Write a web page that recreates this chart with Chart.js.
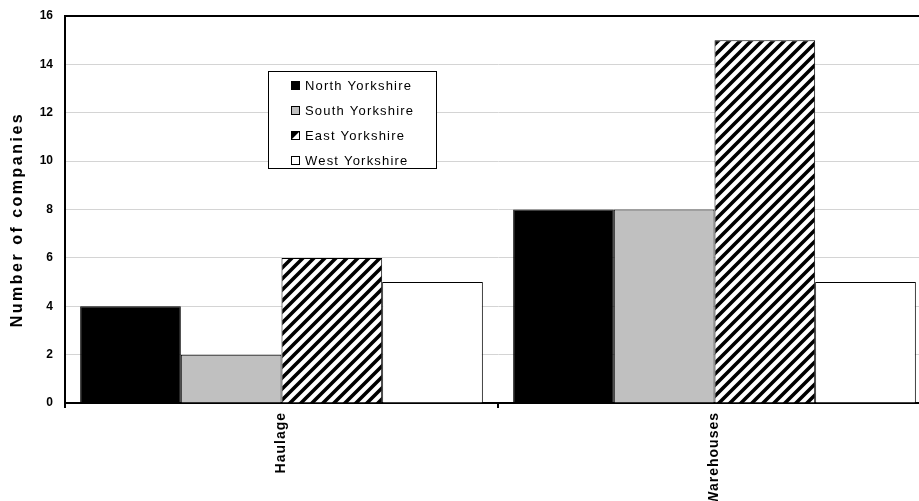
<!DOCTYPE html>
<html>
<head>
<meta charset="utf-8">
<script src="https://cdn.jsdelivr.net/npm/chart.js@4"></script>
<style>
  html, body { margin: 0; padding: 0; background: #fff; overflow: hidden; }
  #wrap { width: 931px; height: 501px; position: relative; }
</style>
</head>
<body>
<div id="wrap"><canvas id="c" width="931" height="501"></canvas></div>
<script>
const categories = ['Haulage', 'Warehouses'];
const seriesNames = ['North Yorkshire', 'South Yorkshire', 'East Yorkshire', 'West Yorkshire'];
const northYorkshire = [4, 8];
const southYorkshire = [2, 8];
const eastYorkshire = [6, 15];
const westYorkshire = [5, 5];
const yMin = 0, yMax = 16, yStep = 2;
const yTitle = 'Number of companies';

const FONT = "Arial, 'Liberation Sans', Helvetica, sans-serif";

function makeHatch() {
  const s = 11;
  const p = document.createElement('canvas');
  p.width = s; p.height = s;
  const g = p.getContext('2d');
  g.fillStyle = '#fff';
  g.fillRect(0, 0, s, s);
  g.strokeStyle = '#000';
  g.lineWidth = 3.6;
  g.beginPath();
  g.moveTo(-2, s + 2); g.lineTo(s + 2, -2);
  g.moveTo(-2, 2); g.lineTo(2, -2);
  g.moveTo(s - 2, s + 2); g.lineTo(s + 2, s - 2);
  g.stroke();
  return document.getElementById('c').getContext('2d').createPattern(p, 'repeat');
}
const hatch = makeHatch();
const fills = ['#000000', '#c0c0c0', hatch, '#ffffff'];
const values = [northYorkshire, southYorkshire, eastYorkshire, westYorkshire];

function spaced(scale, method, spacing, dy) {
  if (scale['_sp_' + method]) return;
  const orig = scale[method];
  scale[method] = function (...args) {
    const c = this.ctx;
    c.save();
    c.letterSpacing = spacing;
    if (dy) c.translate(0, dy);
    orig.apply(this, args);
    c.restore();
  };
  scale['_sp_' + method] = true;
}

const boxLegend = {
  id: 'boxLegend',
  afterDatasetsDraw(chart) {
    const ctx = chart.ctx;
    const a = chart.chartArea;
    const x0 = a.left + 203, y0 = a.top + 55, w = 168, h = 97;
    ctx.save();
    ctx.fillStyle = '#fff';
    ctx.fillRect(x0, y0, w, h);
    ctx.strokeStyle = '#000';
    ctx.lineWidth = 1;
    ctx.strokeRect(x0 + 0.5, y0 + 0.5, w, h);
    ctx.font = '13px ' + FONT;
    ctx.letterSpacing = '1.2px';
    ctx.textBaseline = 'middle';
    seriesNames.forEach((name, i) => {
      const cy = y0 + 14 + i * 25;
      const sx = x0 + 23, sy = Math.round(cy - 4.5);
      if (i === 2) {
        ctx.fillStyle = '#fff';
        ctx.fillRect(sx, sy, 9, 9);
        ctx.fillStyle = '#000';
        ctx.beginPath();
        ctx.moveTo(sx, sy); ctx.lineTo(sx + 9, sy); ctx.lineTo(sx + 4, sy + 5); ctx.lineTo(sx, sy + 9);
        ctx.closePath(); ctx.fill();
      } else {
        ctx.fillStyle = fills[i];
        ctx.fillRect(sx, sy, 9, 9);
      }
      ctx.strokeStyle = '#000';
      ctx.strokeRect(sx + 0.5, sy + 0.5, 8, 8);
      ctx.fillStyle = '#000';
      ctx.fillText(name, x0 + 37, cy + 1);
    });
    ctx.restore();
  }
};

new Chart(document.getElementById('c'), {
  type: 'bar',
  data: {
    labels: categories,
    datasets: seriesNames.map((n, i) => ({
      label: n,
      data: values[i],
      backgroundColor: fills[i],
      borderColor: '#000',
      borderWidth: 1,
      barPercentage: 1.0,
      categoryPercentage: 0.93
    }))
  },
  options: {
    responsive: false,
    animation: false,
    devicePixelRatio: 1,
    layout: { padding: { top: 16, right: 0, left: 0, bottom: 0 } },
    plugins: { legend: { display: false }, tooltip: { enabled: false } },
    scales: {
      x: {
        offset: true,
        border: { display: true, color: '#000', width: 2 },
        grid: { offset: true, drawOnChartArea: false, drawTicks: true, tickLength: 5, color: '#000', lineWidth: 2 },
        ticks: {
          color: '#000', font: { family: FONT, size: 14, weight: 'bold' },
          minRotation: 90, maxRotation: 90, autoSkip: false, padding: 4
        },
        afterFit(scale) { scale.height = 98; scale.paddingLeft = 0; scale.paddingRight = 0; spaced(scale, 'drawLabels', '1px', 0); }
      },
      y: {
        min: yMin, max: yMax,
        border: { display: true, color: '#000', width: 2 },
        grid: {
          drawTicks: false,
          color: (c) => (c.tick && c.tick.value === yMax) ? '#000' : '#d4d4d4',
          lineWidth: (c) => (c.tick && c.tick.value === yMax) ? 2 : 1
        },
        ticks: { stepSize: yStep, color: '#000', padding: 12, font: { family: FONT, size: 12, weight: 'bold' } },
        title: {
          display: true, text: yTitle, color: '#000',
          font: { family: FONT, size: 16, weight: 'bold', lineHeight: 1.2 },
          padding: { top: 8, bottom: 0 }
        },
        afterFit(scale) { scale.width = 65; scale.paddingTop = 0; scale.paddingBottom = 0; spaced(scale, 'drawTitle', '2.5px', 10); }
      }
    }
  },
  plugins: [boxLegend]
});
</script>
</body>
</html>
